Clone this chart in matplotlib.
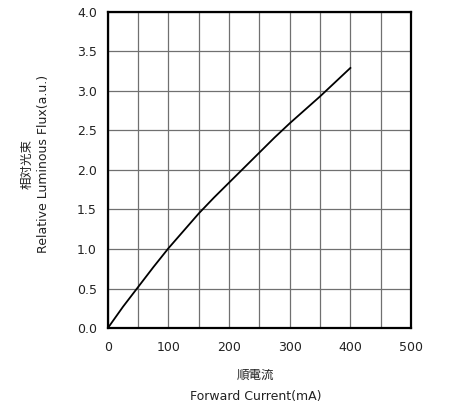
import matplotlib
matplotlib.use("Agg")
import matplotlib.pyplot as plt

current = [0, 25, 50, 75, 100, 125, 150, 175, 200, 225, 250, 275, 300, 325, 350, 375, 400]
flux = [0.0, 0.27, 0.52, 0.77, 1.01, 1.23, 1.45, 1.65, 1.84, 2.03, 2.22, 2.41, 2.59, 2.76, 2.93, 3.11, 3.29]
xticks = [0, 100, 200, 300, 400, 500]
yticks = [0.0, 0.5, 1.0, 1.5, 2.0, 2.5, 3.0, 3.5, 4.0]

plt.rcParams['font.family'] = ['DejaVu Sans', 'Noto Sans CJK JP']

fig = plt.figure(figsize=(4.61, 4.08), dpi=100)
ax = fig.add_axes([0.234, 0.196, 0.6575, 0.775])
ax.plot(current, flux, color='black', lw=1.3)
ax.set_xlim(0, 500)
ax.set_ylim(0, 4.0)
ax.set_xticks(xticks)
ax.set_xticks(list(range(50, 500, 100)), minor=True)
ax.set_yticks(yticks)
ax.set_yticklabels([f"{v:.1f}" for v in yticks])
ax.grid(True, which='both', color='#707070', lw=0.9)
ax.tick_params(which='both', length=0, labelsize=9, colors='#222222')
ax.tick_params(axis='x', pad=9)
ax.tick_params(axis='y', pad=8)
for s in ax.spines.values():
    s.set_linewidth(1.6)
    s.set_color('black')
ax.set_xlabel("順電流\nForward Current(mA)", fontsize=9, linespacing=1.8, labelpad=11, color='#222222')
ax.set_ylabel("相対光束\nRelative Luminous Flux(a.u.)", fontsize=9, linespacing=1.4, labelpad=19, color='#222222')
ax.xaxis.label.set_x(0.487)
ax.yaxis.label.set_y(0.52)
fig.savefig("out.png", dpi=100)
